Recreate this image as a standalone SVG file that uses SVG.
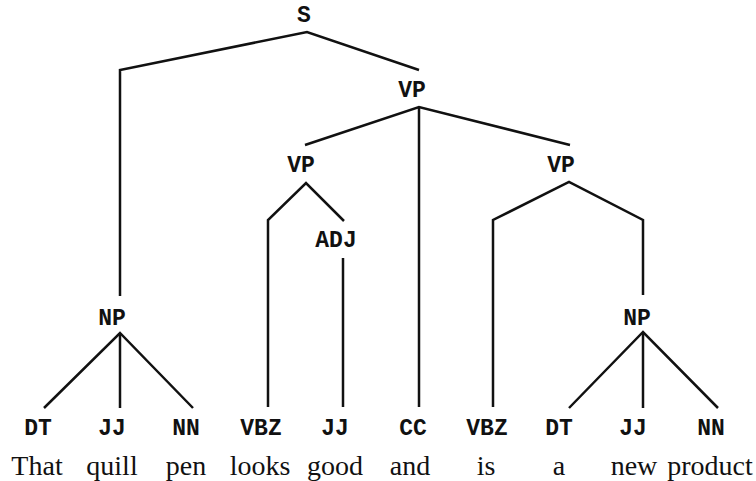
<svg xmlns="http://www.w3.org/2000/svg" width="756" height="481" viewBox="0 0 756 481">
<style>
.lbl{font-family:"Liberation Mono","Courier New",monospace;font-weight:bold;font-size:23px;fill:#111;text-anchor:middle}
.word{font-family:"Liberation Serif","Times New Roman",serif;font-size:28px;fill:#111;text-anchor:middle}
.edge{fill:none;stroke:#111;stroke-width:2.5;stroke-linejoin:miter;stroke-linecap:butt}
</style>
<rect width="756" height="481" fill="#fff"/>
<g id="connectors">
<polyline class="edge" points="120,296 120,70 307,32 419,70"/>
<polyline class="edge" points="305,145 419,107 570,145"/>
<line class="edge" x1="419" y1="107" x2="419" y2="407"/>
<polyline class="edge" points="268,407 268,220 306,183 344,221"/>
<line class="edge" x1="343" y1="258" x2="343" y2="407"/>
<polyline class="edge" points="493,407 493,220 569,182 643,220 643,295"/>
<polyline class="edge" points="44,408 120,333 193,408"/>
<line class="edge" x1="120" y1="333" x2="120" y2="408"/>
<polyline class="edge" points="569,408 643,332 718,408"/>
<line class="edge" x1="643" y1="332" x2="643" y2="408"/>
</g>
<g id="n-S"><text class="lbl" x="304" y="22">S</text></g>
<g id="n-VP"><text class="lbl" x="412" y="97">VP</text></g>
<g id="n-VP1"><text class="lbl" x="301" y="172">VP</text></g>
<g id="n-VP2"><text class="lbl" x="561" y="172">VP</text></g>
<g id="n-ADJ"><text class="lbl" x="336" y="247">ADJ</text></g>
<g id="n-NP1"><text class="lbl" x="112" y="325">NP</text></g>
<g id="n-NP2"><text class="lbl" x="637" y="325">NP</text></g>
<g id="t-1"><text class="lbl" x="38" y="435">DT</text><text class="word" x="37" y="475">That</text></g>
<g id="t-2"><text class="lbl" x="112" y="435">JJ</text><text class="word" x="112" y="475">quill</text></g>
<g id="t-3"><text class="lbl" x="186" y="435">NN</text><text class="word" x="186" y="475">pen</text></g>
<g id="t-4"><text class="lbl" x="261" y="435">VBZ</text><text class="word" x="260" y="475">looks</text></g>
<g id="t-5"><text class="lbl" x="335" y="435">JJ</text><text class="word" x="335" y="475">good</text></g>
<g id="t-6"><text class="lbl" x="413" y="435">CC</text><text class="word" x="410" y="475">and</text></g>
<g id="t-7"><text class="lbl" x="487" y="435">VBZ</text><text class="word" x="486" y="475">is</text></g>
<g id="t-8"><text class="lbl" x="559" y="435">DT</text><text class="word" x="559" y="475">a</text></g>
<g id="t-9"><text class="lbl" x="633" y="435">JJ</text><text class="word" x="634" y="475">new</text></g>
<g id="t-10"><text class="lbl" x="711" y="435">NN</text><text class="word" x="710" y="475">product</text></g>
</svg>
